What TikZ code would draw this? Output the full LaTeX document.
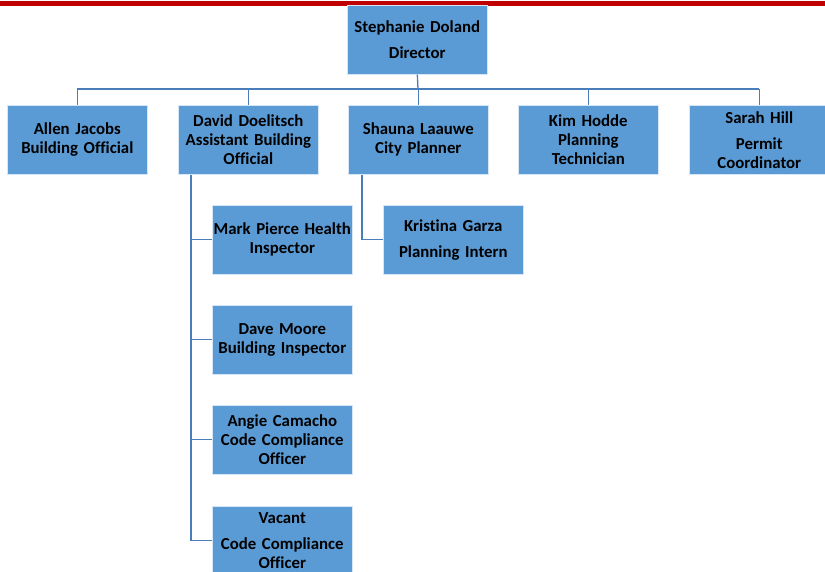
\documentclass[tikz,border=0pt]{standalone}
\usepackage{fontspec}
\setmainfont[Ligatures=NoCommon]{Carlito}
\usepackage{tikz}
\usetikzlibrary{positioning}

\definecolor{boxblue}{RGB}{91,155,213}
\definecolor{linkblue}{RGB}{74,126,187}
\definecolor{topred}{RGB}{192,0,0}

\begin{document}
\begin{tikzpicture}[x=1pt, y=-1pt,
		staff/.style={draw=white!75!boxblue, line width=0.6pt, fill=boxblue,
			minimum width=140pt, minimum height=69pt, inner xsep=0pt, inner ysep=1pt,
			text width=140pt, align=center, anchor=north west,
			font=\fontsize{16.8}{19}\selectfont\bfseries},
		link/.style={draw=linkblue, line width=1.3pt}]
			\useasboundingbox (0, 0) rectangle (825, 571);
			\fill[topred] (0, 1) rectangle (825, 6);

			% director and bus
			\node[staff] (doland) at (347, 5){Stephanie Doland\\[7pt]Director};
			\coordinate (bus) at (418, 89);

			% second row
			\node[staff] (jacobs) at (7, 105){Allen Jacobs\\Building Official};
			\node[staff] (doelitsch) at (178, 105){David Doelitsch\\Assistant Building\\Official};
			\node[staff] (laauwe) at (348, 105){Shauna Laauwe\\City Planner};
			\node[staff] (hodde) at (518, 105){Kim Hodde\\Planning\\Technician};
			\node[staff] (hill) at (689, 105){Sarah Hill\\[7pt]Permit\\Coordinator};

			% under David
			\node[staff] (pierce) at (212, 205){Mark Pierce Health\\Inspector};
			\node[staff] (moore) at (212, 305){Dave Moore\\Building Inspector};
			\node[staff] (camacho) at (212, 405){Angie Camacho\\Code Compliance\\Officer};
			\node[staff] (vacant) at (212, 506){Vacant\\[7pt]Code Compliance\\Officer};

			% under Shauna
			\node[staff] (garza) at (383, 205){Kristina Garza\\[7pt]Planning Intern};

			\draw[link] (doland.south) -- (bus);
			\draw[link] (jacobs.north |- bus) -- (hill.north |- bus);
			\foreach \who in {jacobs, doelitsch, laauwe, hodde, hill}
				\draw[link] (\who.north |- bus) -- (\who.north);

			\coordinate (dtrunk) at (191, 175);
			\foreach \who in {pierce, moore, camacho, vacant}
				\draw[link] (dtrunk) |- (\who.west);

			\coordinate (strunk) at (362, 175);
			\draw[link] (strunk) |- (garza.west);
		\end{tikzpicture}
\end{document}
